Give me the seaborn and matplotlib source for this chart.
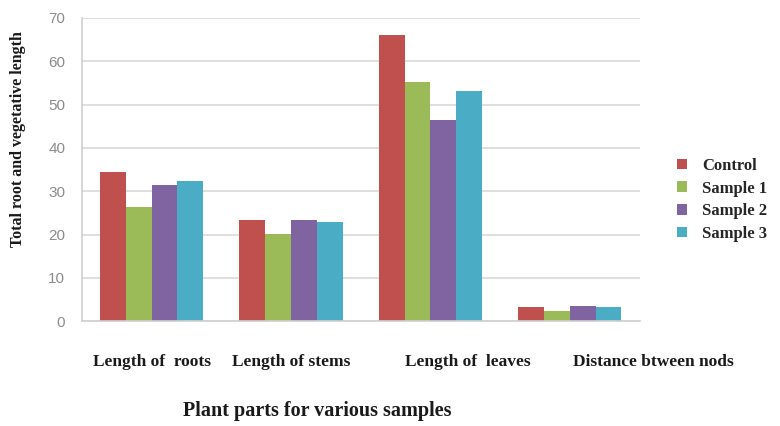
import matplotlib
matplotlib.use("Agg")
import matplotlib.pyplot as plt
import seaborn as sns
import pandas as pd

# data
parts = ["Length of  roots", "Length of stems", "Length of  leaves", "Distance btween nods"]
samples = ["Control", "Sample 1", "Sample 2", "Sample 3"]
control = [34.4, 23.3, 66.0, 3.2]
sample1 = [26.3, 20.1, 55.3, 2.3]
sample2 = [31.4, 23.4, 46.4, 3.4]
sample3 = [32.3, 23.0, 53.2, 3.2]
colors = ["#C0504D", "#9BBB59", "#8064A2", "#4BACC6"]

rows = []
for name, vals in zip(samples, [control, sample1, sample2, sample3]):
    for p, v in zip(parts, vals):
        rows.append({"part": p, "sample": name, "value": v})
df = pd.DataFrame(rows)

sns.set_style("white")
plt.rcParams["font.family"] = ["Liberation Serif", "DejaVu Serif"]

fig = plt.figure(figsize=(7.8, 4.26), dpi=100)
ax = fig.add_axes([0.105, 0.246, 0.715, 0.712])

sns.barplot(data=df, x="part", y="value", hue="sample", order=parts,
            hue_order=samples, palette=colors, width=0.74, saturation=1,
            edgecolor="none", ax=ax)

ax.set_ylim(0, 70)
ax.set_yticks(range(0, 71, 10))
ax.yaxis.grid(True, color="#D9D9D9", linewidth=1.2)
ax.set_axisbelow(True)
for s in ["top", "right"]:
    ax.spines[s].set_visible(False)
for s in ["left", "bottom"]:
    ax.spines[s].set_color("#D0D0D0")
    ax.spines[s].set_linewidth(1.2)
ax.tick_params(axis="y", length=5, color="#D0D0D0", labelsize=11,
               labelcolor="#8C8C8C", pad=7)
ax.tick_params(axis="x", length=0)
for t in ax.get_yticklabels():
    t.set_family(["Liberation Sans", "DejaVu Sans"])

# category labels, placed like the original (not all centred on groups)
ax.set_xticklabels([])
offsets = [0.0, 0.0, 0.27, 0.6]
for i, (p, off) in enumerate(zip(parts, offsets)):
    ax.text(i + off, -9.5, p, ha="center", va="center", fontsize=12.5,
            fontweight="bold", color="#1A1A1A")

ax.set_xlabel("")
fig.text(0.407, 0.035, "Plant parts for various samples", ha="center",
         va="center", fontsize=14.5, fontweight="bold", color="#1A1A1A")
ax.set_ylabel("Total root and vegetative length", fontsize=11.5,
              fontweight="bold", color="#1A1A1A")
ax.yaxis.set_label_coords(-0.10, 0.6)

leg = ax.legend(loc="center left", bbox_to_anchor=(1.04, 0.40), frameon=False,
                handlelength=0.6, handleheight=0.6, handletextpad=0.9,
                labelspacing=0.4, prop={"family": "Liberation Serif",
                                        "weight": "bold", "size": 12})

fig.savefig("out.png", dpi=100)
